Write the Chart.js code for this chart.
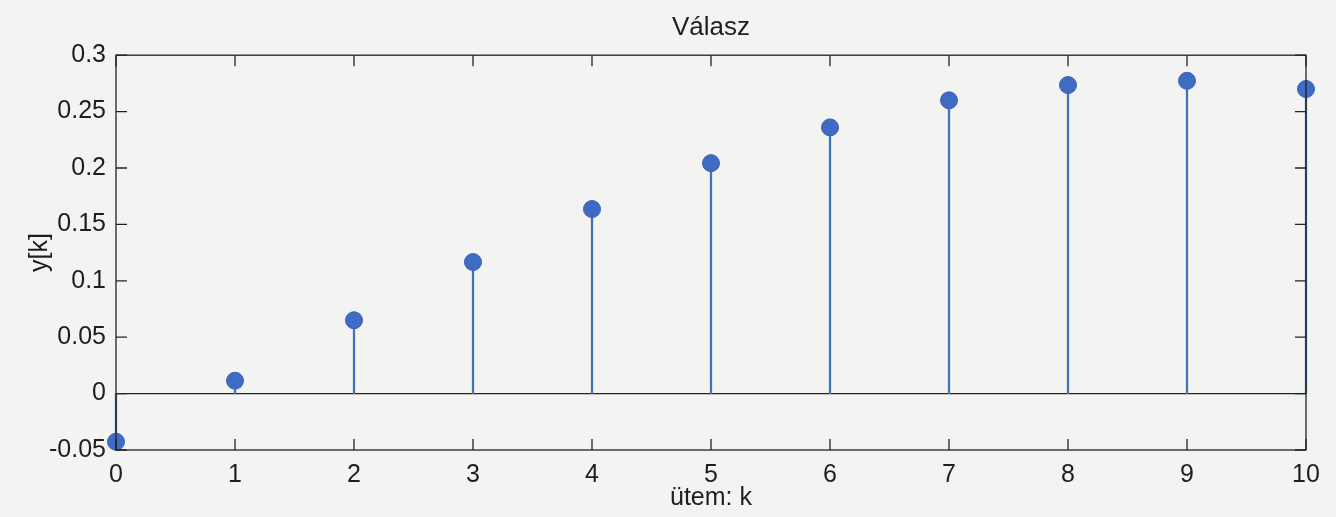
<!DOCTYPE html>
<html>
<head>
<meta charset="utf-8">
<script src="https://cdn.jsdelivr.net/npm/chart.js@4"></script>
<style>
  html, body { margin: 0; padding: 0; background: #f3f3f1; }
  #wrap { width: 1336px; height: 517px; }
</style>
</head>
<body>
<div id="wrap"><canvas id="stemChart" width="1336" height="517"></canvas></div>
<script>
// ===== Data =====
const kValues = [0, 1, 2, 3, 4, 5, 6, 7, 8, 9, 10];
const yValues = [-0.0427, 0.0114, 0.065, 0.1166, 0.1636, 0.2043, 0.236, 0.26, 0.2735, 0.2773, 0.270];
const xTicks = [0, 1, 2, 3, 4, 5, 6, 7, 8, 9, 10];
const yTicks = [-0.05, 0, 0.05, 0.1, 0.15, 0.2, 0.25, 0.3];

const FONT = "'Liberation Sans', Arial, Helvetica, sans-serif";
const TEXT = '#1e1e1e';

const points = kValues.map((k, i) => ({ x: k, y: yValues[i] }));

// paper background
const paperBg = {
  id: 'paperBg',
  beforeDraw(chart) {
    const { ctx, width, height } = chart;
    ctx.save();
    ctx.fillStyle = '#f3f3f1';
    ctx.fillRect(0, 0, width, height);
    ctx.restore();
  }
};

// MATLAB style box, inward ticks, zero baseline
const matlabBox = {
  id: 'matlabBox',
  beforeDatasetsDraw(chart) {
    const { ctx, chartArea: a, scales: { y } } = chart;
    ctx.save();
    ctx.strokeStyle = '#222';
    ctx.lineWidth = 1.3;
    // baseline at y = 0
    const y0 = y.getPixelForValue(0);
    ctx.beginPath();
    ctx.moveTo(a.left, y0);
    ctx.lineTo(a.right, y0);
    ctx.stroke();
    ctx.restore();
  },
  afterDatasetsDraw(chart) {
    const { ctx, chartArea: a, scales: { x, y } } = chart;
    const tl = 11;
    ctx.save();
    ctx.strokeStyle = '#222';
    ctx.lineWidth = 1.3;
    ctx.strokeRect(a.left, a.top, a.right - a.left, a.bottom - a.top);
    ctx.beginPath();
    xTicks.forEach(v => {
      const px = x.getPixelForValue(v);
      ctx.moveTo(px, a.bottom); ctx.lineTo(px, a.bottom - tl);
      ctx.moveTo(px, a.top); ctx.lineTo(px, a.top + tl);
    });
    yTicks.forEach(v => {
      const py = y.getPixelForValue(v);
      ctx.moveTo(a.left, py); ctx.lineTo(a.left + tl, py);
      ctx.moveTo(a.right, py); ctx.lineTo(a.right - tl, py);
    });
    ctx.stroke();
    ctx.restore();
  }
};

const ctx = document.getElementById('stemChart');
new Chart(ctx, {
  type: 'bar',
  data: {
    datasets: [
      {
        type: 'scatter',
        data: points,
        backgroundColor: '#3f6bc4',
        borderColor: '#3962b8',
        borderWidth: 1,
        pointRadius: 8.5,
        pointHoverRadius: 8.5,
        clip: false,
        order: 0
      },
      {
        type: 'bar',
        data: points,
        backgroundColor: '#3f73b8',
        barThickness: 1.6,
        borderWidth: 0,
        clip: false,
        order: 1
      }
    ]
  },
  plugins: [paperBg, matlabBox],
  options: {
    responsive: false,
    animation: false,
    layout: { padding: { left: 0, right: 30, top: 0, bottom: 0 } },
    plugins: {
      legend: { display: false },
      tooltip: { enabled: false },
      title: {
        display: true,
        fullSize: false,
        text: 'Válasz',
        color: TEXT,
        font: { family: FONT, size: 26, weight: 'normal' },
        padding: { top: 12, bottom: 12 }
      }
    },
    scales: {
      x: {
        type: 'linear',
        min: 0,
        max: 10,
        offset: false,
        grid: { display: false, drawTicks: false },
        border: { display: false },
        afterBuildTicks: s => { s.ticks = xTicks.map(v => ({ value: v })); },
        afterFit: s => { s.height = 67; },
        ticks: {
          color: TEXT,
          padding: 10,
          font: { family: FONT, size: 25 },
          callback: v => String(v)
        },
        title: {
          display: true,
          text: 'ütem: k',
          color: TEXT,
          font: { family: FONT, size: 25 },
          padding: { top: 0, bottom: 4 }
        }
      },
      y: {
        min: -0.05,
        max: 0.3,
        grid: { display: false, drawTicks: false },
        border: { display: false },
        afterBuildTicks: s => { s.ticks = yTicks.map(v => ({ value: v })); },
        afterFit: s => { s.width = 116; },
        ticks: {
          color: TEXT,
          padding: 10,
          font: { family: FONT, size: 25 },
          callback: v => String(Math.round(v * 100) / 100)
        },
        title: {
          display: true,
          text: 'y[k]',
          color: TEXT,
          font: { family: FONT, size: 25 },
          padding: { top: 25, bottom: 0 }
        }
      }
    }
  }
});
</script>
</body>
</html>
